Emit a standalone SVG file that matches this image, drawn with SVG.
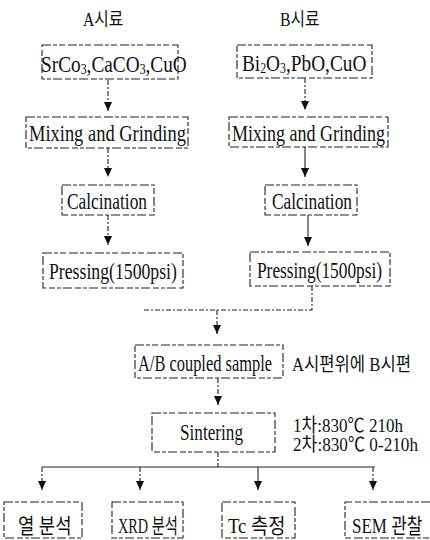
<svg xmlns="http://www.w3.org/2000/svg" width="430" height="540" viewBox="0 0 430 540">
<defs>
<marker id="ah" markerUnits="userSpaceOnUse" markerWidth="12" markerHeight="10" refX="9" refY="4" orient="auto">
<path d="M0,0 L9,4 L0,8 z" fill="#111"/>
</marker>
<style>
.box{fill:none;stroke:#222;stroke-width:1.1;stroke-dasharray:9 2 4 2 6 3}
.t{font-family:"Liberation Serif","Noto Sans CJK KR",serif;font-size:23px;fill:#111}
.k{font-family:"Liberation Serif","Noto Sans CJK KR",serif;font-size:19px;fill:#111}
.kb{font-family:"Liberation Serif","Noto Sans CJK KR",serif;font-size:21px;fill:#111}
.sub{font-size:14px}
.c{fill:none;stroke:#222;stroke-width:1.1}
.d{stroke-dasharray:5 2 2 2}
</style>
</defs>
<rect width="430" height="540" fill="#fff"/>
<g id="labels">
<text class="k" transform="translate(83,26) scale(0.83,1)">A시료</text>
<text class="k" transform="translate(280,26) scale(0.83,1)">B시료</text>
</g>
<g id="connectors">
<path class="c d" d="M108,80 V111" marker-end="url(#ah)"/>
<path class="c d" d="M108,148 V177" marker-end="url(#ah)"/>
<path class="c d" d="M108,215 V245" marker-end="url(#ah)"/>
<path class="c d" d="M305,78 V110" marker-end="url(#ah)"/>
<path class="c" d="M305,147 V177" marker-end="url(#ah)"/>
<path class="c" d="M308,215 V246" marker-end="url(#ah)"/>
<path class="c d" d="M312,286 V310 H143"/>
<path class="c d" d="M217,310 V334" marker-end="url(#ah)"/>
<path class="c d" d="M218,378 V405" marker-end="url(#ah)"/>
<path class="c d" d="M218,452 V467"/>
<path class="c" d="M42,467 H375"/>
<path class="c d" d="M42,467 V490" marker-end="url(#ah)"/>
<path class="c d" d="M140,467 V490" marker-end="url(#ah)"/>
<path class="c" d="M258,467 V490" marker-end="url(#ah)"/>
<path class="c d" d="M373,467 V490" marker-end="url(#ah)"/>
</g>
<g id="a1"><rect class="box" x="42" y="45" width="136" height="34"/>
<text class="t" transform="translate(41,72) scale(0.84,1)">SrCo<tspan class="sub" dy="2">3</tspan><tspan dy="-2">,CaCO</tspan><tspan class="sub" dy="2">3</tspan><tspan dy="-2">,CuO</tspan></text></g>
<g id="a2"><rect class="box" x="26" y="117" width="162" height="31"/>
<text class="t" transform="translate(29,141) scale(0.803,1)">Mixing and Grinding</text></g>
<g id="a3"><rect class="box" x="62" y="185" width="92" height="30"/>
<text class="t" transform="translate(67,209) scale(0.755,1)">Calcination</text></g>
<g id="a4"><rect class="box" x="43" y="253" width="140" height="35"/>
<text class="t" transform="translate(49,279) scale(0.771,1)">Pressing(1500psi)</text></g>
<g id="b1"><rect class="box" x="237" y="45" width="135" height="33"/>
<text class="t" transform="translate(242,71) scale(0.84,1)">Bi<tspan class="sub" dy="2">2</tspan><tspan dy="-2">O</tspan><tspan class="sub" dy="2">3</tspan><tspan dy="-2">,PbO,CuO</tspan></text></g>
<g id="b2"><rect class="box" x="229" y="117" width="159" height="30"/>
<text class="t" transform="translate(232,141) scale(0.783,1)">Mixing and Grinding</text></g>
<g id="b3"><rect class="box" x="265" y="185" width="92" height="30"/>
<text class="t" transform="translate(272,209) scale(0.755,1)">Calcination</text></g>
<g id="b4"><rect class="box" x="250" y="252" width="140" height="34"/>
<text class="t" transform="translate(257,278) scale(0.753,1)">Pressing(1500psi)</text></g>
<g id="coupled"><rect class="box" x="135" y="345" width="148" height="33"/>
<text class="t" transform="translate(138,371) scale(0.714,1)">A/B coupled sample</text>
<text class="k" transform="translate(292,371) scale(0.875,1)">A시편위에 B시편</text></g>
<g id="sintering"><rect class="box" x="152" y="413" width="123" height="39"/>
<text class="t" transform="translate(180,440) scale(0.747,1)">Sintering</text>
<text class="k" x="293" y="432" textLength="110" lengthAdjust="spacingAndGlyphs">1차:830℃ 210h</text>
<text class="k" x="293" y="451" textLength="125" lengthAdjust="spacingAndGlyphs">2차:830℃ 0-210h</text></g>
<g id="thermal"><rect class="box" x="4" y="502" width="78" height="36"/>
<text class="kb" transform="translate(18,533) scale(0.85,1)">열 분석</text></g>
<g id="xrd"><rect class="box" x="112" y="502" width="71" height="36"/>
<text class="kb" transform="translate(118,533) scale(0.68,1)">XRD 분석</text></g>
<g id="tc"><rect class="box" x="222" y="502" width="73" height="36"/>
<text class="kb" transform="translate(228,533) scale(0.89,1)">Tc 측정</text></g>
<g id="sem"><path class="box" d="M430,502 H345 V538 H430"/>
<text class="kb" transform="translate(352,533) scale(0.81,1)">SEM 관찰</text></g>
</svg>
